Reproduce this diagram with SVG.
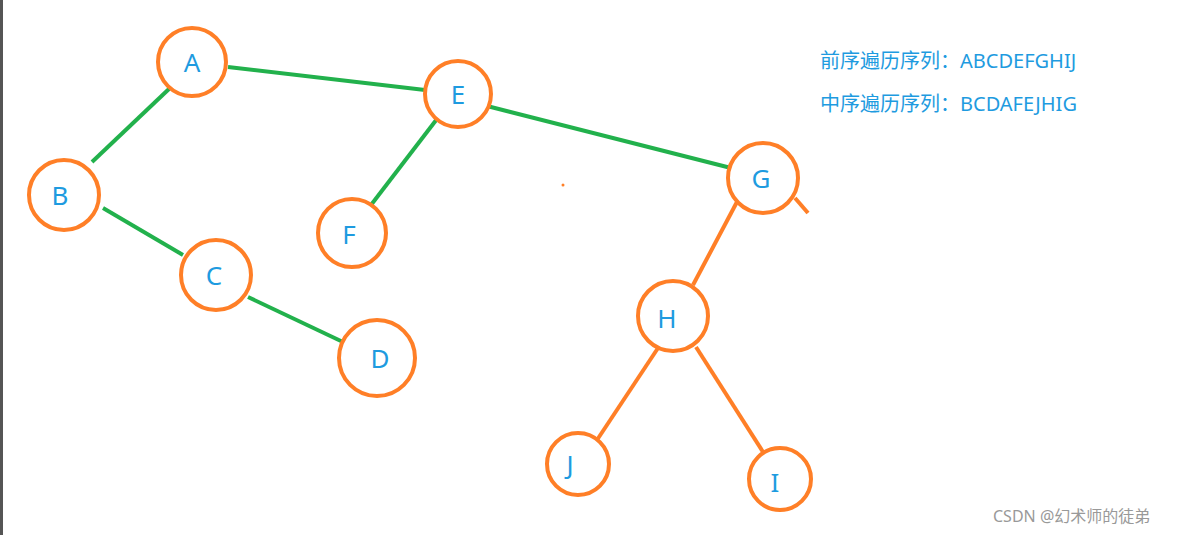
<svg xmlns="http://www.w3.org/2000/svg" width="1200" height="535" viewBox="0 0 1200 535">
<style>
.n circle{fill:#fff;stroke:#FF7F27;stroke-width:4}
.n text{font-family:"Noto Sans","Liberation Sans",sans-serif;font-size:26px;fill:#1E9BE0;text-anchor:middle;dominant-baseline:central}
.g{stroke:#22B14C;stroke-width:4;fill:none}
.o{stroke:#FF7F27;stroke-width:4;fill:none}
.t{font-family:"Noto Sans","Noto Sans CJK SC",sans-serif;font-size:20px;fill:#1E9BE0}
</style>
<rect width="1200" height="535" fill="#fff"/>
<line x1="1.5" y1="0" x2="1.5" y2="535" stroke="#555" stroke-width="3"/>
<g id="connectors">
<line class="g" x1="170" y1="88" x2="92" y2="162"/>
<line class="g" x1="228" y1="67" x2="425" y2="90"/>
<line class="g" x1="440" y1="115" x2="371" y2="205"/>
<line class="g" x1="487" y1="106" x2="731" y2="168"/>
<line class="g" x1="103" y1="208" x2="183" y2="255"/>
<line class="g" x1="248" y1="297" x2="343" y2="342"/>
<line class="o" x1="738" y1="200" x2="693" y2="285"/>
<line class="o" x1="660" y1="345" x2="597" y2="440"/>
<line class="o" x1="696" y1="347" x2="763" y2="452"/>
<line class="o" x1="795" y1="198" x2="808" y2="213"/>
</g>
<circle cx="563" cy="185" r="1.5" fill="#FF7F27"/>
<g id="A" class="n"><circle cx="192" cy="62" r="34"/><text x="192" y="62">A</text></g>
<g id="E" class="n"><circle cx="458" cy="94" r="33"/><text x="458" y="94">E</text></g>
<g id="B" class="n"><circle cx="64" cy="195" r="35"/><text x="60" y="195">B</text></g>
<g id="F" class="n"><circle cx="352" cy="233" r="34"/><text x="349" y="234">F</text></g>
<g id="C" class="n"><circle cx="216" cy="275" r="35"/><text x="214" y="275">C</text></g>
<g id="D" class="n"><circle cx="377" cy="358" r="38"/><text x="380" y="358">D</text></g>
<g id="G" class="n"><circle cx="763" cy="178" r="35"/><text x="761" y="178">G</text></g>
<g id="H" class="n"><circle cx="673" cy="316" r="35"/><text x="667" y="318">H</text></g>
<g id="J" class="n"><circle cx="578" cy="464" r="31"/><text x="570" y="464">J</text></g>
<g id="I" class="n"><circle cx="780" cy="479" r="31"/><text x="775" y="482">I</text></g>
<text class="t" x="820" y="68">前序遍历序列：ABCDEFGHIJ</text>
<text class="t" x="820" y="111">中序遍历序列：BCDAFEJHIG</text>
<text x="993" y="522" style="font-family:'Noto Sans','Noto Sans CJK SC',sans-serif;font-size:16px;fill:#999">CSDN @幻术师的徒弟</text>
</svg>
